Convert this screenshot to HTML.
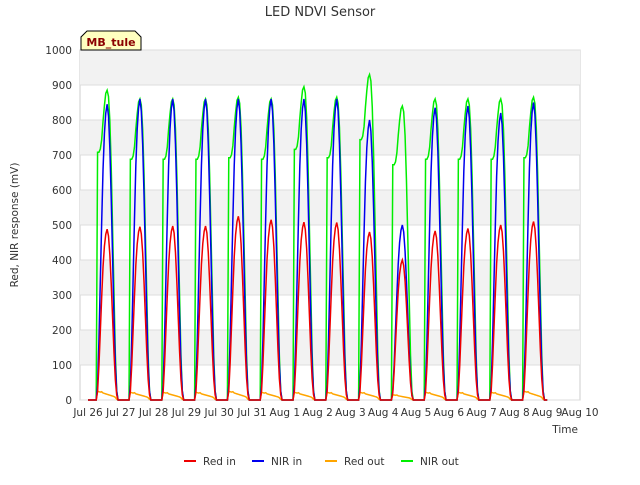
<!DOCTYPE html>
<html><head><meta charset="utf-8"><style>
body{margin:0;background:#fff;font-family:"Liberation Sans","DejaVu Sans",sans-serif}
svg text{font-family:"DejaVu Sans","Liberation Sans",sans-serif}
</style></head><body>
<svg id="c" width="640" height="480"></svg>
<script>
const dayLabels=["Jul 26","Jul 27","Jul 28","Jul 29","Jul 30","Jul 31","Aug 1","Aug 2","Aug 3","Aug 4","Aug 5","Aug 6","Aug 7","Aug 8","Aug 9","Aug 10"];
const yTicks=[0,100,200,300,400,500,600,700,800,900,1000];
const redInPeaks=[488,495,497,497,525,515,508,507,480,400,483,490,500,510];
const nirInPeaks=[845,860,860,860,860,860,860,860,800,500,835,840,820,850];
const nirOutPeaks=[885,860,860,860,865,860,895,865,930,840,860,860,860,865];
const redOutPeaks=[25,22,22,22,25,22,22,22,22,15,22,22,22,25];
const inProfile=[0,0,0,0,0,0,0,0.05,0.2,0.4,0.6,0.78,0.9,0.97,1,0.96,0.85,0.68,0.48,0.28,0.12,0.03,0,0];
const nirOutProfile=[0,0,0,0,0,0,0,0.8,0.8,0.81,0.84,0.9,0.95,0.99,1,0.98,0.9,0.75,0.55,0.35,0.15,0.03,0,0];
const redOutProfile=[0,0,0,0,0,0,0,1,0.95,0.9,0.95,0.8,0.75,0.7,0.65,0.6,0.55,0.5,0.45,0.4,0.3,0.1,0,0];
const NS="http://www.w3.org/2000/svg",svg=document.getElementById('c');
const X0=88,DX=32.8,Y0=400,YS=0.35;
const xs=d=>X0+d*DX, ys=v=>Y0-v*YS;
function el(t,a,p){const e=document.createElementNS(NS,t);for(const k in a)e.setAttribute(k,a[k]);(p||svg).appendChild(e);return e;}
let r=el('rect',{x:80,y:50,width:500,height:350,fill:'#fff',stroke:'#ccc'});

for(let i=0;i<10;i++){if(i%2==1){let b=el('rect',{x:80,y:ys(yTicks[i+1]),width:500,height:100*YS,fill:'#f2f2f2'});}}
yTicks.forEach(v=>{let g=el('line',{x1:80,x2:580,y1:ys(v),y2:ys(v),stroke:'#ddd'});
let t=el('text',{x:72,y:ys(v)+4,'text-anchor':'end','font-size':10.5,fill:'#333'});t.textContent=v;});
dayLabels.forEach((l,i)=>{let t=el('text',{x:xs(i),y:416,'text-anchor':'middle','font-size':10.5,fill:'#333'});t.textContent=l;});
function series(peaks,prof,color,name){let pts=[];peaks.forEach((p,d)=>{for(let h=0;h<24;h++)pts.push([xs(d+h/24),ys(p*prof[h])]);});
pts.push([xs(14),ys(0)]);
let pl=el('polyline',{points:pts.map(q=>q.join(',')).join(' '),fill:'none',stroke:color,'stroke-width':1.5});}
series(redOutPeaks,redOutProfile,'#ffa500','red-out-line');
series(nirOutPeaks,nirOutProfile,'#00ee00','nir-out-line');
series(nirInPeaks,inProfile,'#0000ee','nir-in-line');
series(redInPeaks,inProfile,'#ee0000','red-in-line');
let tt=el('text',{x:320,y:16,'text-anchor':'middle','font-size':13,fill:'#333'});tt.textContent='LED NDVI Sensor';
let yt=el('text',{x:18,y:225,'text-anchor':'middle','font-size':10.5,fill:'#333',transform:'rotate(-90 18 225)'});yt.textContent='Red, NIR response (mV)';
let xt=el('text',{x:578,y:433,'text-anchor':'end','font-size':10.5,fill:'#333'});xt.textContent='Time';
let bx=el('path',{d:'M81,50 L81,37 L87,31 L135,31 L141,37 L141,50 Z',fill:'#ffffc0',stroke:'#000'});
let bt=el('text',{x:111,y:46,'text-anchor':'middle','font-size':11,'font-weight':'bold',fill:'#8b0000'});bt.textContent='MB_tule';
[['Red in','#ee0000',184],['NIR in','#0000ee',252],['Red out','#ffa500',325],['NIR out','#00ee00',401]].forEach(([n,c,x])=>{
let l=el('line',{x1:x,x2:x+12,y1:461,y2:461,stroke:c,'stroke-width':2});
let t=el('text',{x:x+19,y:465,'font-size':10.5,fill:'#333'});t.textContent=n;});
</script>
</body></html>
